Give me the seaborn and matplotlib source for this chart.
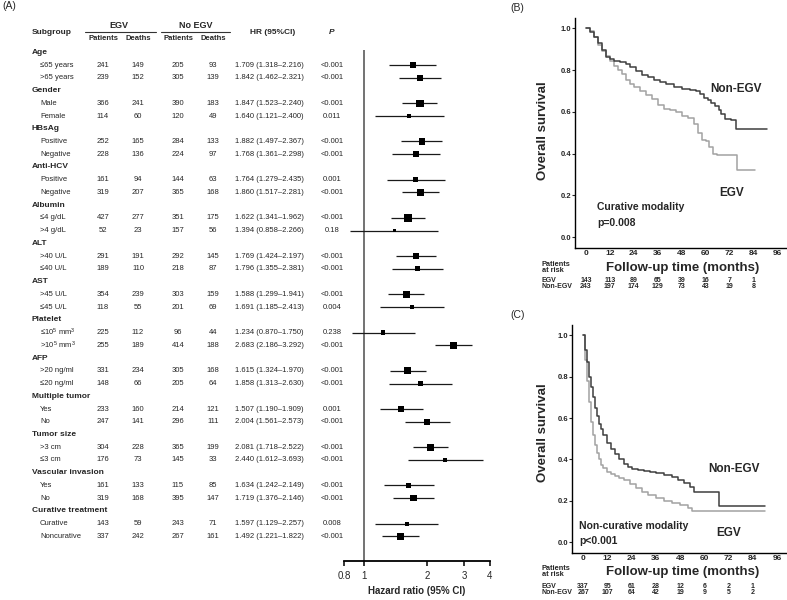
import numpy as np
import pandas as pd
import seaborn as sns
import matplotlib.pyplot as plt
from matplotlib.lines import Line2D
from matplotlib.ticker import NullLocator
from matplotlib.transforms import blended_transform_factory

# ---- forest plot data (panel A) ----
groups = ["Age", "Gender", "HBsAg", "Anti-HCV", "Albumin", "ALT", "AST", "Platelet",
          "AFP", "Multiple tumor", "Tumor size", "Vascular invasion", "Curative treatment"]
subgroups = ["≤65 years", ">65 years", "Male", "Female", "Positive", "Negative",
             "Positive", "Negative", "≤4 g/dL", ">4 g/dL", ">40 U/L", "≤40 U/L",
             ">45 U/L", "≤45 U/L", "≤10$^5$ mm$^3$", ">10$^5$ mm$^3$", ">20 ng/ml", "≤20 ng/ml",
             "Yes", "No", ">3 cm", "≤3 cm", "Yes", "No", "Curative", "Noncurative"]
egv_patients = [241, 239, 366, 114, 252, 228, 161, 319, 427, 52, 291, 189, 354, 118,
                225, 255, 331, 148, 233, 247, 304, 176, 161, 319, 143, 337]
egv_deaths = [149, 152, 241, 60, 165, 136, 94, 207, 277, 23, 191, 110, 239, 55,
              112, 189, 234, 66, 160, 141, 228, 73, 133, 168, 59, 242]
noegv_patients = [205, 305, 390, 120, 284, 224, 144, 365, 351, 157, 292, 218, 303, 201,
                  96, 414, 305, 205, 214, 296, 365, 145, 115, 395, 243, 267]
noegv_deaths = [93, 139, 183, 49, 133, 97, 63, 168, 175, 56, 145, 87, 159, 69,
                44, 188, 168, 64, 121, 111, 199, 33, 85, 147, 71, 161]
hr = [1.709, 1.842, 1.847, 1.640, 1.882, 1.768, 1.764, 1.860, 1.622, 1.394, 1.769, 1.796,
      1.588, 1.691, 1.234, 2.683, 1.615, 1.858, 1.507, 2.004, 2.081, 2.440, 1.634, 1.719,
      1.597, 1.492]
hr_lo = [1.318, 1.462, 1.523, 1.121, 1.497, 1.361, 1.279, 1.517, 1.341, 0.858, 1.424, 1.355,
         1.299, 1.185, 0.870, 2.186, 1.324, 1.313, 1.190, 1.561, 1.718, 1.612, 1.242, 1.376,
         1.129, 1.221]
hr_hi = [2.216, 2.321, 2.240, 2.400, 2.367, 2.298, 2.435, 2.281, 1.962, 2.266, 2.197, 2.381,
         1.941, 2.413, 1.750, 3.292, 1.970, 2.630, 1.909, 2.573, 2.522, 3.693, 2.149, 2.146,
         2.257, 1.822]
p_values = ["<0.001", "<0.001", "<0.001", "0.011", "<0.001", "<0.001", "0.001", "<0.001",
            "<0.001", "0.18", "<0.001", "<0.001", "<0.001", "0.004", "0.238", "<0.001",
            "<0.001", "<0.001", "0.001", "<0.001", "<0.001", "<0.001", "<0.001", "<0.001",
            "0.008", "<0.001"]
hr_ticks = [0.8, 1, 2, 3, 4]

# ---- Kaplan-Meier data (panels B and C) ----
km_months = [0, 12, 24, 36, 48, 60, 72, 84, 96]

b_egv_t = [0, 2, 4, 6, 8, 10, 12, 14, 16, 18, 20, 22, 24, 27, 30, 33, 36, 39, 42, 45,
           48, 51, 54, 56, 58, 60, 62, 64, 66, 70, 76, 85]
b_egv_s = [1.0, 0.99, 0.96, 0.92, 0.89, 0.87, 0.845, 0.82, 0.80, 0.78, 0.755, 0.735, 0.72,
           0.70, 0.68, 0.66, 0.635, 0.615, 0.608, 0.60, 0.58, 0.57, 0.54, 0.50, 0.465, 0.46,
           0.43, 0.40, 0.395, 0.395, 0.32, 0.32]
b_non_t = [0, 2, 4, 6, 8, 10, 12, 14, 17, 20, 22, 25, 28, 31, 34, 37, 40, 44, 48, 52, 55,
           57, 59, 61, 63, 65, 67, 68, 70, 73, 75.5, 91]
b_non_s = [1.0, 0.985, 0.96, 0.93, 0.895, 0.865, 0.855, 0.845, 0.84, 0.83, 0.815, 0.795,
           0.775, 0.765, 0.755, 0.745, 0.735, 0.72, 0.71, 0.705, 0.70, 0.685, 0.665, 0.655,
           0.645, 0.63, 0.61, 0.59, 0.565, 0.56, 0.52, 0.52]
b_risk_egv = [143, 113, 89, 65, 39, 16, 7, 1]
b_risk_non = [243, 197, 174, 129, 73, 43, 19, 8]

c_egv_t = [0, 1, 2, 3, 4, 5, 6, 7, 8, 9, 10, 12, 14, 16, 18, 20, 23, 26, 29, 32, 36, 40,
           44, 48, 52, 54, 90]
c_egv_s = [1.0, 0.88, 0.78, 0.68, 0.58, 0.52, 0.47, 0.43, 0.40, 0.375, 0.36, 0.34, 0.33,
           0.32, 0.31, 0.30, 0.28, 0.26, 0.245, 0.23, 0.215, 0.20, 0.19, 0.18, 0.165, 0.15, 0.15]
c_non_t = [0, 1, 2, 3, 4, 5, 6, 7, 8, 9, 10, 12, 14, 16, 18, 20, 22, 24, 27, 30, 33, 36,
           40, 44, 47, 50, 53, 55, 67, 90]
c_non_s = [1.0, 0.93, 0.87, 0.80, 0.75, 0.70, 0.65, 0.61, 0.57, 0.545, 0.52, 0.48, 0.45,
           0.425, 0.40, 0.38, 0.365, 0.355, 0.35, 0.345, 0.34, 0.335, 0.325, 0.315, 0.30,
           0.285, 0.265, 0.245, 0.175, 0.175]
c_risk_egv = [337, 95, 61, 28, 12, 6, 2, 1]
c_risk_non = [267, 107, 64, 42, 19, 9, 5, 2]

sns.set_style("white")
plt.rcParams['font.family'] = ['Liberation Sans', 'DejaVu Sans']
plt.rcParams['mathtext.fontset'] = 'custom'
plt.rcParams['mathtext.rm'] = 'Liberation Sans'
plt.rcParams['mathtext.it'] = 'Liberation Sans:italic'
plt.rcParams['mathtext.bf'] = 'Liberation Sans:bold'

W, H = 787, 600
fig = plt.figure(figsize=(W / 100, H / 100), dpi=100)


def fx(px):
    return px / W


def fy(py):
    return 1 - py / H


# ================= panel A =================
ax = fig.add_axes([fx(344), fy(561), fx(490) - fx(344), fy(50) - fy(561)])
row0, step = 52.3, 12.74
rows = [3 * (i // 2) + 1 + i % 2 for i in range(len(subgroups))]
df = pd.DataFrame({"row": rows, "hr": hr, "lo": hr_lo, "hi": hr_hi})
df["w"] = 1 / np.log(df.hi / df.lo) ** 2

ax.set_xscale("log")
ax.axvline(1, color="#5a5a5a", lw=1.2, zorder=1)
ax.hlines(df.row, df.lo, df.hi, color="#1a1a1a", lw=0.9, zorder=2)
sns.scatterplot(data=df, x="hr", y="row", size="w", sizes=(6, 28), marker="s",
                color="black", edgecolor="none", legend=False, ax=ax, zorder=3)
ax.set_xlim(0.8, 4)
ax.set_ylim((561 - row0) / step, (50 - row0) / step)
ax.set_xticks(hr_ticks)
ax.set_xticklabels([str(t) for t in hr_ticks])
ax.xaxis.set_minor_locator(NullLocator())
ax.set_yticks([])
ax.set_ylabel("")
for s in ["top", "right", "left"]:
    ax.spines[s].set_visible(False)
ax.spines["bottom"].set_linewidth(1.3)
ax.spines["bottom"].set_color("black")
ax.tick_params(axis="x", direction="out", length=3.5, width=1.3, labelsize=7, pad=4,
               bottom=True)
ax.set_xlabel("Hazard ratio (95% CI)", fontsize=7, fontweight="bold", labelpad=3)

tr = blended_transform_factory(fig.transFigure, ax.transData)
body = dict(fontsize=5.5, va="center", transform=tr)
for g, name in enumerate(groups):
    ax.text(fx(32), 3 * g, name, fontweight="bold", fontsize=6, va="center", transform=tr)
for i, r in enumerate(rows):
    ax.text(fx(40), r, subgroups[i], ha="left", **body)
    ax.text(fx(103), r, str(egv_patients[i]), ha="center", **body)
    ax.text(fx(138), r, str(egv_deaths[i]), ha="center", **body)
    ax.text(fx(178), r, str(noegv_patients[i]), ha="center", **body)
    ax.text(fx(213), r, str(noegv_deaths[i]), ha="center", **body)
    ax.text(fx(235), r, f"{hr[i]:.3f} ({hr_lo[i]:.3f}–{hr_hi[i]:.3f})", ha="left", **body)
    ax.text(fx(332), r, p_values[i], ha="center", **body)

hdr = dict(fontweight="bold", va="center")
fig.text(fx(2), fy(6), "(A)", fontsize=7.5, va="center")
fig.text(fx(32), fy(32), "Subgroup", fontsize=6, **hdr)
fig.text(fx(119), fy(25), "EGV", fontsize=6.5, ha="center", **hdr)
fig.text(fx(196), fy(25), "No EGV", fontsize=6.5, ha="center", **hdr)
for x0, x1 in [(85, 156), (161, 230)]:
    fig.add_artist(Line2D([fx(x0), fx(x1)], [fy(32.3), fy(32.3)], transform=fig.transFigure,
                          color="#333333", lw=0.8))
for x, lab in [(103, "Patients"), (138, "Deaths"), (178, "Patients"), (213, "Deaths")]:
    fig.text(fx(x), fy(39), lab, fontsize=5.5, ha="center", **hdr)
fig.text(fx(273), fy(32), "HR (95%CI)", fontsize=6, ha="center", **hdr)
fig.text(fx(332), fy(32), "P", fontsize=6, ha="center", style="italic", **hdr)

# ================= panels B and C =================
palette = {"EGV": "#a2a2a2", "Non-EGV": "#3e3e3e"}


def km_panel(left_px, top_px, bottom_px, egv_t, egv_s, non_t, non_s, risk_egv, risk_non,
             letter, letter_y, label_text, p_text, txt_pos, ylab_y, xlab_y, risk_y):
    kax = fig.add_axes([fx(left_px), fy(bottom_px), 1 - fx(left_px) - 0.001,
                        fy(top_px) - fy(bottom_px)])
    km = pd.DataFrame({
        "month": egv_t + non_t,
        "surv": egv_s + non_s,
        "group": ["EGV"] * len(egv_t) + ["Non-EGV"] * len(non_t),
    })
    sns.lineplot(data=km, x="month", y="surv", hue="group", palette=palette,
                 estimator=None, drawstyle="steps-post", lw=1.1, legend=False, ax=kax)
    kax.set_xlim(-5.5, 100.5)
    kax.set_ylim(-0.052, 1.05)
    kax.set_xticks(km_months)
    kax.set_xticklabels([str(m) for m in km_months], fontsize=6, fontweight="bold")
    kax.set_yticks(np.arange(0, 1.01, 0.2))
    kax.set_yticklabels([f"{v:.1f}" for v in np.arange(0, 1.01, 0.2)], fontsize=5.5,
                        fontweight="bold")
    kax.tick_params(axis="x", length=0, pad=1.5)
    kax.tick_params(axis="y", length=2, width=0.8, pad=0.5, left=True)
    kax.set_xlabel("")
    kax.set_ylabel("")
    for s in ["top", "right"]:
        kax.spines[s].set_visible(False)
    for s in ["left", "bottom"]:
        kax.spines[s].set_color("black")
        kax.spines[s].set_linewidth(1.0)

    (nx, ny), (ex, ey), (mx, my), (px_, py_) = txt_pos
    kax.text(nx, ny, "Non-EGV", fontsize=8.5, fontweight="bold", ha="center", va="center")
    kax.text(ex, ey, "EGV", fontsize=8.5, fontweight="bold", ha="center", va="center")
    kax.text(mx, my, label_text, fontsize=7.5, fontweight="bold", ha="left", va="center")
    kax.text(px_, py_, p_text, fontsize=7.5, fontweight="bold", ha="left", va="center")

    fig.text(fx(510), fy(letter_y), letter, fontsize=7.5, va="center")
    fig.text(fx(543), fy(ylab_y), "Overall survival", rotation=90, fontsize=9.5,
             fontweight="bold", ha="center", va="center")
    fig.text(fx(683), fy(xlab_y), "Follow-up time (months)", fontsize=9.5,
             fontweight="bold", ha="center", va="center")
    fig.text(fx(542), fy(xlab_y - 1), "Patients\nat risk", fontsize=5.3, fontweight="bold",
             ha="left", va="center", linespacing=0.8)
    rtr = blended_transform_factory(kax.transData, fig.transFigure)
    fig.text(fx(542), fy(risk_y), "EGV", fontsize=5, fontweight="bold", va="center")
    fig.text(fx(542), fy(risk_y + 6), "Non-EGV", fontsize=5, fontweight="bold", va="center")
    for m, a, b in zip(km_months, risk_egv, risk_non):
        kax.text(m, fy(risk_y), str(a), transform=rtr, fontsize=5, fontweight="bold",
                 ha="center", va="center")
        kax.text(m, fy(risk_y + 6), str(b), transform=rtr, fontsize=5, fontweight="bold",
                 ha="center", va="center")
    return kax


km_panel(575, 18, 248, b_egv_t, b_egv_s, b_non_t, b_non_s, b_risk_egv, b_risk_non,
         "(B)", 8, "Curative modality", "p=0.008",
         [(75.5, 0.708), (73, 0.21), (5.5, 0.144), (5.5, 0.067)], 131, 268, 281)
km_panel(572, 325, 553, c_egv_t, c_egv_s, c_non_t, c_non_s, c_risk_egv, c_risk_non,
         "(C)", 315, "Non-curative modality", "p<0.001",
         [(74.6, 0.353), (72, 0.047), (-2, 0.078), (-2, 0.005)], 433, 572, 586)

fig.savefig("out.png", dpi=100)
